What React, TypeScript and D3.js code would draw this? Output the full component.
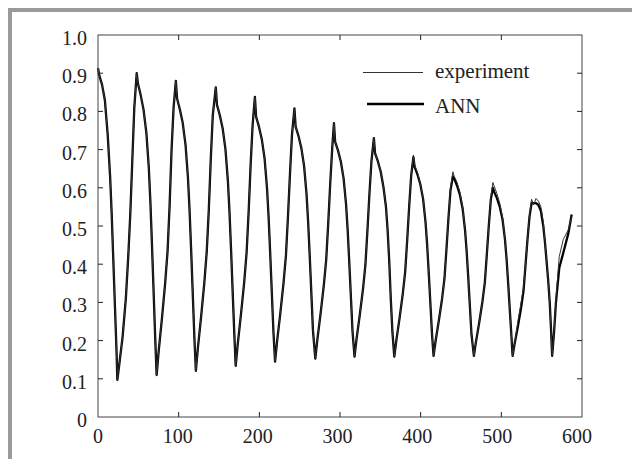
import React from "react";
import * as d3 from "d3";

// sample position, one row per oscillation cycle
const time = [
  0, 1.5, 5, 8.5, 12, 15, 17, 19, 21, 23, 24, 26.5, 30.5, 34.5, 37.5, 40, 42.5, 45,
  48, 49.5, 53, 56.5, 60, 63, 65, 67, 69, 71, 72.7, 75.2, 79.2, 83.2, 86.2, 88.7, 91.2, 93.7,
  96.5, 98, 101.5, 105, 108.5, 111.5, 113.5, 115.5, 117.5, 119.5, 121.3, 123.8, 127.8, 131.8, 134.8, 137.3, 139.8, 142.3,
  146, 147.5, 151, 154.5, 158, 161, 163, 165, 167, 169, 170.7, 173.2, 177.2, 181.2, 184.2, 186.7, 189.2, 191.7,
  194.5, 196, 199.5, 203, 206.5, 209.5, 211.5, 213.5, 215.5, 217.5, 219.5, 222, 226, 230, 233, 235.5, 238, 240.5,
  243.5, 245, 248.5, 252, 255.5, 258.5, 260.5, 262.5, 264.5, 266.5, 269.4, 271.9, 275.9, 279.9, 282.9, 285.4, 287.9, 290.4,
  292.5, 294, 297.5, 301, 304.5, 307.5, 309.5, 311.5, 313.5, 315.5, 318, 320.5, 324.5, 328.5, 331.5, 334, 336.5, 339,
  342, 343.5, 347, 350.5, 354, 357, 359, 361, 363, 365, 367.3, 369.8, 373.8, 377.8, 380.8, 383.3, 385.8, 388.3,
  391, 392.5, 396, 399.5, 403, 406, 408, 410, 412, 414, 416, 418.5, 422.5, 426.5, 429.5, 432, 434.5, 437,
  440, 441.5, 445, 448.5, 452, 455, 457, 459, 461, 463, 466, 468.5, 472.5, 476.5, 479.5, 482, 484.5, 487,
  489.5, 491, 494.5, 498, 501.5, 504.5, 506.5, 508.5, 510.5, 512.5, 514, 516.5, 520.5, 524.5, 527.5, 530, 532.5, 535,
  537.5, 540, 543, 546, 549, 552, 554, 556, 558, 560, 561.8, 563, 565.3, 567.7, 571.8, 576.8, 583, 587.2,
];

const ann = [
  0.913, 0.895, 0.87, 0.83, 0.74, 0.63, 0.53, 0.41, 0.29, 0.17, 0.097, 0.14, 0.21, 0.31, 0.42, 0.53, 0.67, 0.81,
  0.9, 0.873, 0.842, 0.804, 0.743, 0.652, 0.56, 0.446, 0.324, 0.202, 0.11, 0.172, 0.256, 0.349, 0.433, 0.55, 0.7, 0.81,
  0.88, 0.834, 0.805, 0.77, 0.713, 0.627, 0.542, 0.435, 0.321, 0.207, 0.121, 0.18, 0.262, 0.351, 0.433, 0.54, 0.675, 0.79,
  0.863, 0.817, 0.79, 0.756, 0.701, 0.619, 0.537, 0.435, 0.325, 0.216, 0.134, 0.19, 0.268, 0.352, 0.43, 0.535, 0.66, 0.765,
  0.838, 0.786, 0.76, 0.728, 0.677, 0.6, 0.523, 0.427, 0.324, 0.222, 0.145, 0.198, 0.271, 0.351, 0.423, 0.525, 0.637, 0.74,
  0.808, 0.76, 0.736, 0.705, 0.657, 0.584, 0.511, 0.42, 0.323, 0.226, 0.153, 0.202, 0.27, 0.344, 0.412, 0.507, 0.612, 0.705,
  0.769, 0.72, 0.698, 0.669, 0.624, 0.557, 0.49, 0.405, 0.315, 0.225, 0.158, 0.204, 0.267, 0.335, 0.398, 0.488, 0.585, 0.67,
  0.73, 0.69, 0.669, 0.642, 0.6, 0.55, 0.49, 0.41, 0.307, 0.222, 0.158, 0.2, 0.258, 0.322, 0.38, 0.463, 0.553, 0.633,
  0.68, 0.655, 0.635, 0.61, 0.571, 0.511, 0.452, 0.378, 0.299, 0.219, 0.16, 0.199, 0.252, 0.309, 0.362, 0.44, 0.522, 0.594,
  0.63, 0.625, 0.606, 0.583, 0.546, 0.49, 0.434, 0.365, 0.29, 0.216, 0.16, 0.196, 0.246, 0.301, 0.351, 0.425, 0.502, 0.57,
  0.6, 0.59, 0.573, 0.551, 0.517, 0.465, 0.414, 0.349, 0.28, 0.212, 0.16, 0.192, 0.237, 0.286, 0.33, 0.398, 0.467, 0.526,
  0.56, 0.56, 0.56, 0.555, 0.54, 0.5, 0.46, 0.41, 0.36, 0.3, 0.22, 0.16, 0.22, 0.3, 0.39, 0.43, 0.48, 0.53,
];

const experiment = [
  0.913, 0.895, 0.87, 0.83, 0.74, 0.63, 0.53, 0.41, 0.29, 0.17, 0.097, 0.14, 0.21, 0.31, 0.42, 0.53, 0.67, 0.81,
  0.9, 0.873, 0.842, 0.804, 0.743, 0.652, 0.56, 0.446, 0.324, 0.202, 0.11, 0.172, 0.256, 0.349, 0.433, 0.55, 0.7, 0.81,
  0.88, 0.834, 0.805, 0.77, 0.713, 0.627, 0.542, 0.435, 0.321, 0.207, 0.121, 0.18, 0.262, 0.351, 0.433, 0.54, 0.675, 0.79,
  0.863, 0.817, 0.79, 0.756, 0.701, 0.619, 0.537, 0.435, 0.325, 0.216, 0.134, 0.19, 0.268, 0.352, 0.43, 0.535, 0.66, 0.765,
  0.838, 0.786, 0.76, 0.728, 0.677, 0.6, 0.523, 0.427, 0.324, 0.222, 0.145, 0.198, 0.271, 0.351, 0.423, 0.525, 0.637, 0.74,
  0.808, 0.76, 0.736, 0.705, 0.657, 0.584, 0.511, 0.42, 0.323, 0.226, 0.153, 0.202, 0.27, 0.344, 0.412, 0.507, 0.612, 0.705,
  0.769, 0.72, 0.698, 0.669, 0.624, 0.557, 0.49, 0.405, 0.315, 0.225, 0.158, 0.204, 0.267, 0.335, 0.398, 0.488, 0.585, 0.67,
  0.73, 0.69, 0.669, 0.642, 0.6, 0.55, 0.49, 0.41, 0.307, 0.222, 0.158, 0.2, 0.258, 0.322, 0.38, 0.463, 0.553, 0.633,
  0.686, 0.66, 0.64, 0.612, 0.571, 0.511, 0.452, 0.378, 0.299, 0.219, 0.16, 0.199, 0.252, 0.309, 0.362, 0.44, 0.522, 0.6,
  0.642, 0.63, 0.615, 0.59, 0.55, 0.49, 0.434, 0.365, 0.29, 0.216, 0.16, 0.196, 0.246, 0.301, 0.351, 0.425, 0.502, 0.575,
  0.614, 0.605, 0.585, 0.56, 0.522, 0.465, 0.414, 0.349, 0.28, 0.212, 0.16, 0.192, 0.25, 0.3, 0.34, 0.398, 0.467, 0.53,
  0.57, 0.555, 0.572, 0.565, 0.55, 0.51, 0.46, 0.41, 0.36, 0.3, 0.22, 0.16, 0.22, 0.31, 0.42, 0.465, 0.49, 0.525,
];

const xTicks = [0, 100, 200, 300, 400, 500, 600];
const yTicks = [0, 0.1, 0.2, 0.3, 0.4, 0.5, 0.6, 0.7, 0.8, 0.9, 1.0];
const yTickLabels = ["0", "0.1", "0.2", "0.3", "0.4", "0.5", "0.6", "0.7", "0.8", "0.9", "1.0"];
const legendNames = ["experiment", "ANN"];

const font = "'Liberation Serif', 'Times New Roman', serif";

export default function App() {
  const x = d3.scaleLinear().domain([0, 600]).range([98, 582]);
  const y = d3.scaleLinear().domain([0, 1]).range([417, 35]);

  const line = d3
    .line<number>()
    .x((_, i) => x(time[i]))
    .y((d) => y(d));

  const tick = 5;

  return (
    <svg
      width={632}
      height={459}
      style={{ position: "absolute", left: 0, top: 0, background: "#fff" }}
    >
      {/* grey page frame */}
      <rect x={8} y={8} width={624} height={4} fill="#9a9a9a" />
      <rect x={8} y={8} width={4} height={451} fill="#9a9a9a" />

      {/* series */}
      <path d={line(ann) || ""} fill="none" stroke="#000" strokeWidth={2.3} strokeLinejoin="round" />
      <path d={line(experiment) || ""} fill="none" stroke="#333" strokeWidth={1} strokeLinejoin="round" />

      {/* frame */}
      <rect x={98} y={35} width={484} height={382} fill="none" stroke="#444" strokeWidth={1} />

      {/* x ticks, top and bottom, pointing in */}
      {xTicks.slice(1, -1).map((t) => (
        <g key={"xt" + t} stroke="#222">
          <line x1={x(t)} x2={x(t)} y1={417} y2={417 - tick} />
          <line x1={x(t)} x2={x(t)} y1={35} y2={35 + tick} />
        </g>
      ))}
      {yTicks.slice(1, -1).map((t) => (
        <g key={"yt" + t} stroke="#222">
          <line x1={98} x2={98 + tick} y1={y(t)} y2={y(t)} />
          <line x1={582} x2={582 - tick} y1={y(t)} y2={y(t)} />
        </g>
      ))}

      {/* tick labels */}
      {xTicks.map((t) => (
        <text
          key={"xl" + t}
          x={x(t) - (t / 600) * 5}
          y={443}
          textAnchor="middle"
          fontFamily={font}
          fontSize={20}
          fill="#222"
        >
          {t}
        </text>
      ))}
      {yTicks.map((t, i) => (
        <text
          key={"yl" + t}
          x={87}
          y={y(t) + 10}
          textAnchor="end"
          fontFamily={font}
          fontSize={20}
          fill="#222"
        >
          {yTickLabels[i]}
        </text>
      ))}

      {/* legend */}
      <line x1={363} x2={423} y1={72.5} y2={72.5} stroke="#333" strokeWidth={1} />
      <text x={435} y={78} fontFamily={font} fontSize={21} fill="#222">
        {legendNames[0]}
      </text>
      <line x1={367} x2={424} y1={104} y2={104} stroke="#000" strokeWidth={2.3} />
      <text x={435} y={113} fontFamily={font} fontSize={21} fill="#222">
        {legendNames[1]}
      </text>
    </svg>
  );
}
